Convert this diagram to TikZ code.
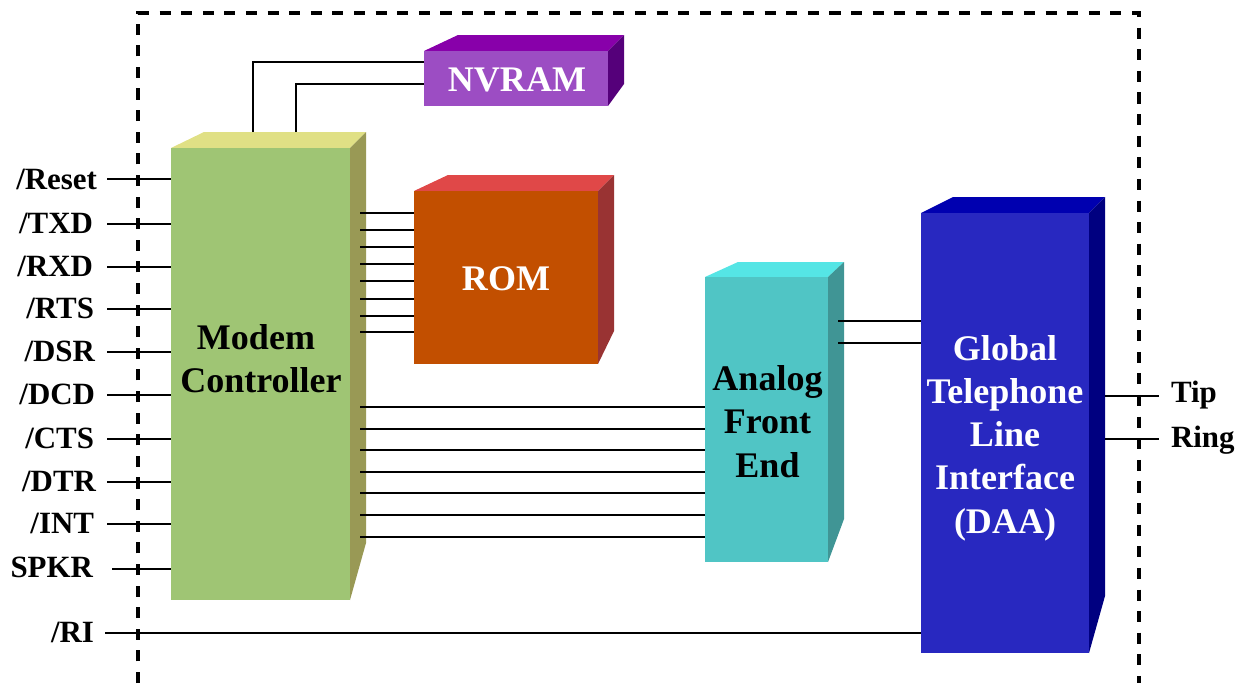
\documentclass[tikz,border=0pt]{standalone}
\usepackage{fontspec}
\setmainfont{Liberation Serif}
\definecolor{ctrlfront}{HTML}{9FC574}
\definecolor{ctrltop}{HTML}{E0E085}
\definecolor{ctrlside}{HTML}{999955}
\definecolor{nvfront}{HTML}{9C4DC3}
\definecolor{nvtop}{HTML}{8800AA}
\definecolor{nvside}{HTML}{55007A}
\definecolor{romfront}{HTML}{C24F00}
\definecolor{romtop}{HTML}{E04848}
\definecolor{romside}{HTML}{993333}
\definecolor{afefront}{HTML}{50C5C5}
\definecolor{afetop}{HTML}{55E5E5}
\definecolor{afeside}{HTML}{409595}
\definecolor{daafront}{HTML}{2828C0}
\definecolor{daatop}{HTML}{0000B0}
\definecolor{daaside}{HTML}{000080}
\tikzset{
	blockbox/.style={anchor=north west,inner sep=0pt,outer sep=0pt},
	blocktext/.style={inner sep=0pt,outer sep=0pt,align=center,font=\fontsize{20.5}{24.6}\selectfont\bfseries},
	pinleft/.style={anchor=east,inner ysep=0pt,outer sep=0pt,font=\fontsize{17.6}{20}\selectfont\bfseries,text height=12pt,text depth=0pt},
	pinright/.style={anchor=west,inner ysep=0pt,outer sep=0pt,font=\fontsize{17.6}{20}\selectfont\bfseries,text height=12pt,text depth=0pt},
	wire/.style={line width=1.5pt}
}
\begin{document}
\begin{tikzpicture}[x=.02cm,y=-.02cm]
	\useasboundingbox (0,0) rectangle (1240,683);
	\draw[line width=1.75pt,dash pattern=on 6.3pt off 6pt] (138,683) -- (138,13) -- (1139,13) -- (1139,683);
	% top and side faces
	\fill[ctrltop] (171,148) -- (204,132) -- (366,132) -- (350,148) -- cycle;
	\fill[ctrlside] (350,148) -- (366,132) -- (366,543) -- (350,600) -- cycle;
	\fill[nvtop] (424,51) -- (458,35) -- (624,35) -- (608,51) -- cycle;
	\fill[nvside] (608,51) -- (624,35) -- (624,84) -- (608,106) -- cycle;
	\fill[romtop] (414,191) -- (448,175) -- (614,175) -- (598,191) -- cycle;
	\fill[romside] (598,191) -- (614,175) -- (614,331) -- (598,364) -- cycle;
	\fill[afetop] (705,277) -- (738,262) -- (844,262) -- (828,277) -- cycle;
	\fill[afeside] (828,277) -- (844,262) -- (844,519) -- (828,562) -- cycle;
	\fill[daatop] (921,213) -- (953,197) -- (1105,197) -- (1089,213) -- cycle;
	\fill[daaside] (1089,213) -- (1105,197) -- (1105,596) -- (1089,653) -- cycle;
	% front faces
	\node[blockbox,fill=ctrlfront,minimum width=3.58cm,minimum height=9.04cm] (ctrl) at (171,148) {};
	\node[blockbox,fill=nvfront,minimum width=3.68cm,minimum height=1.10cm] (nvram) at (424,51) {};
	\node[blockbox,fill=romfront,minimum width=3.68cm,minimum height=3.46cm] (rom) at (414,191) {};
	\node[blockbox,fill=afefront,minimum width=2.46cm,minimum height=5.70cm] (afe) at (705,277) {};
	\node[blockbox,fill=daafront,minimum width=3.36cm,minimum height=8.80cm] (daa) at (921,213) {};
	% texts on the faces
	\node[blocktext] (ctrltext) at (261,359) {Modem\hspace*{5.7pt}\\Controller};
	\node[blocktext,text=white] (nvtext) at (517,79.5) {NVRAM};
	\node[blocktext,text=white] (romtext) at (506,278.5) {ROM};
	\node[blocktext] (afetext) at (767.5,421.5) {Analog\\Front\\End};
	\node[blocktext,text=white] (daatext) at (1005,438) {Global\\Telephone\\Line\\Interface\\(DAA)};
	% pins on the left
	\foreach \name/\txt/\xpos/\ypos/\gap in {reset/{/Reset}/107/179/10,txd/{/TXD}/107/223/14,rxd/{/RXD}/107/266/14,rts/{/RTS}/107/308/13,dsr/{/DSR}/107/351/12,dcd/{/DCD}/107/394/12,cts/{/CTS}/107/438/13,dtr/{/DTR}/107/481/11,int/{/INT}/107/523/13,spkr/SPKR/112/567/19,ri/{/RI}/105/632/11}{
		\node[pinleft,inner xsep=\gap*.02cm] (\name) at (\xpos,\ypos) {\txt};
	}
	\foreach \name/\ypos in {reset/179,txd/224,rxd/267,rts/309,dsr/352,dcd/395,cts/439,dtr/482,int/524,spkr/569}{
		\coordinate (\name end) at (\name.east |- 0,\ypos);
		\draw[wire] (\name end) -- (\name end -| ctrl.west);
	}
	\coordinate (riend) at (ri.east |- 0,633);
	\draw[wire] (riend) -- (riend -| daa.west);
	% pins on the right
	\node[pinright,inner xsep=12*.02cm] (tip) at (1159,392) {Tip};
	\node[pinright,inner xsep=12*.02cm] (ring) at (1159,437) {Ring};
	\coordinate (tipend) at (1105,396);
	\coordinate (ringend) at (1105,439);
	\draw[wire] (tipend) -- (tipend -| tip.west);
	\draw[wire] (ringend) -- (ringend -| ring.west);
	% buses
	\foreach \ypos [count=\i] in {213,230,247,264,281,299,316,332}{
		\coordinate (romport\i) at (360,\ypos);
		\draw[wire] (romport\i) -- (romport\i -| rom.west);
	}
	\foreach \ypos [count=\i] in {407,429,450,472,493,515,537}{
		\coordinate (afeport\i) at (360,\ypos);
		\draw[wire] (afeport\i) -- (afeport\i -| afe.west);
	}
	\foreach \ypos [count=\i] in {321,343}{
		\coordinate (daaport\i) at (838,\ypos);
		\draw[wire] (daaport\i) -- (daaport\i -| daa.west);
	}
	% up to the NVRAM
	\coordinate (nvport1) at (253,62);
	\coordinate (nvport2) at (296,84);
	\draw[wire] (nvport1 |- 0,132) -- (nvport1) -- (nvport1 -| nvram.west);
	\draw[wire] (nvport2 |- 0,132) -- (nvport2) -- (nvport2 -| nvram.west);
\end{tikzpicture}
\end{document}
